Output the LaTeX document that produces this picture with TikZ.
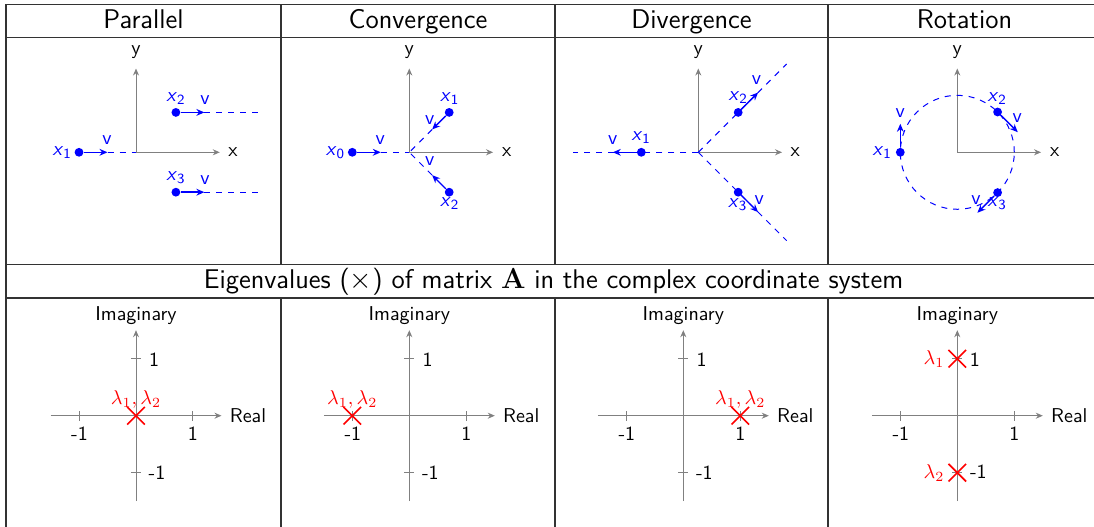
\documentclass[tikz,border=0pt]{standalone}
\usetikzlibrary{arrows.meta,shapes.misc,calc}
\begin{document}
\begin{tikzpicture}[x=0.0175439cm,y=-0.0175439cm,font=\sffamily,
  grid/.style={line width=0.75pt,black!80},
  hdr/.style={font=\sffamily\fontsize{13.5}{16}\selectfont,anchor=base,inner sep=0pt},
  axis/.style={gray,line width=0.5pt,-{Stealth[length=3.5pt,width=3pt]}},
  axisplain/.style={gray,line width=0.5pt},
  vel/.style={blue,line width=0.7pt,-{Stealth[length=4pt,width=3.4pt]}},
  traj/.style={blue,dashed,line width=0.5pt},
  pt/.style={circle,fill=blue,inner sep=0pt,minimum size=4.4pt},
  blbl/.style={blue,inner sep=0pt},
  albl/.style={inner sep=0pt},
  eig/.style={draw=red,cross out,line width=0.8pt,inner sep=0pt,minimum size=0.28cm},
  elbl/.style={red,inner sep=0pt}]
\useasboundingbox (0,0) rectangle (1094,527);
% table grid
\draw[grid] (6,527) -- (6,4.5) -- (1094,4.5);
\draw[grid] (6,37.5) -- (1094,37.5);
\draw[grid] (6,264.5) -- (1094,264.5);
\draw[grid] (6,298) -- (1094,298);
\foreach \c in {281,555,828}{
  \draw[grid] (\c,4.5) -- (\c,264.5);
  \draw[grid] (\c,298) -- (\c,527);
}
% headers
\node[hdr] (h1) at (143.5,28.3) {Parallel};
\node[hdr] (h2) at (418,28.3) {Convergence};
\node[hdr] (h3) at (691.5,28.3) {Divergence};
\node[hdr] (h4) at (964.5,28.3) {Rotation};
\node[hdr] (h5) at (553.5,288.3) {Eigenvalues ($\times$) of matrix $\mathbf{A}$ in the complex coordinate system};

% ---------- Parallel ----------
\begin{scope}[shift={(136,152.3)},x=1cm,y=1cm]
  \coordinate (po) at (0,0);
  \coordinate (px) at (1.47,0);
  \coordinate (py) at (0,1.47);
  \draw[axis] (po) -- (px);
  \draw[axis] (po) -- (py);
  \node[albl] (pxl) at (1.7,0) {x};
  \node[albl] (pyl) at (0,1.76) {y};
  \node[pt] (p1) at (-1,0) {};
  \coordinate (p1v) at (-0.5,0);
  \draw[vel] (p1) -- (p1v);
  \draw[traj] (p1v) -- (po);
  \node[blbl,anchor=east] (p1l) at (-1.12,0) {\textit{x}\textsubscript{1}};
  \node[blbl] (p1vl) at (-0.51,0.22) {v};
  \node[pt] (p2) at (0.7,0.7) {};
  \coordinate (p2v) at (1.2,0.7);
  \coordinate (p2e) at (2.2,0.7);
  \draw[vel] (p2) -- (p2v);
  \draw[traj] (p2v) -- (p2e);
  \node[blbl] (p2l) at (0.7,0.95) {\textit{x}\textsubscript{2}};
  \node[blbl] (p2vl) at (1.21,0.92) {v};
  \node[pt] (p3) at (0.7,-0.7) {};
  \coordinate (p3v) at (1.2,-0.7);
  \coordinate (p3e) at (2.2,-0.7);
  \draw[vel] (p3) -- (p3v);
  \draw[traj] (p3v) -- (p3e);
  \node[blbl] (p3l) at (0.7,-0.45) {\textit{x}\textsubscript{3}};
  \node[blbl] (p3vl) at (1.21,-0.48) {v};
\end{scope}

% ---------- Convergence ----------
\begin{scope}[shift={(409.3,152.3)},x=1cm,y=1cm]
  \coordinate (co) at (0,0);
  \coordinate (cx) at (1.47,0);
  \coordinate (cy) at (0,1.47);
  \draw[axis] (co) -- (cx);
  \draw[axis] (co) -- (cy);
  \node[albl] (cxl) at (1.71,0) {x};
  \node[albl] (cyl) at (0,1.76) {y};
  \node[pt] (c0) at (-1,0) {};
  \coordinate (c0v) at (-0.5,0);
  \draw[vel] (c0) -- (c0v);
  \draw[traj] (c0v) -- (co);
  \node[blbl,anchor=east] (c0l) at (-1.12,0) {\textit{x}\textsubscript{0}};
  \node[blbl] (c0vl) at (-0.51,0.22) {v};
  \node[pt] (c1) at (0.7,0.7) {};
  \coordinate (c1v) at (0.4,0.4);
  \draw[vel] (c1) -- (c1v);
  \draw[traj] (c1v) -- (co);
  \node[blbl] (c1l) at (0.71,0.95) {\textit{x}\textsubscript{1}};
  \node[blbl] (c1vl) at (0.36,0.57) {v};
  \node[pt] (c2) at (0.7,-0.7) {};
  \coordinate (c2v) at (0.4,-0.4);
  \draw[vel] (c2) -- (c2v);
  \draw[traj] (c2v) -- (co);
  \node[blbl] (c2l) at (0.71,-0.9) {\textit{x}\textsubscript{2}};
  \node[blbl] (c2vl) at (0.36,-0.15) {v};
\end{scope}

% ---------- Divergence ----------
\begin{scope}[shift={(698.3,152.3)},x=1cm,y=1cm]
  \coordinate (do) at (0,0);
  \coordinate (dx) at (1.47,0);
  \coordinate (dy) at (0,1.47);
  \draw[axis] (do) -- (dx);
  \draw[axis] (do) -- (dy);
  \node[albl] (dxl) at (1.7,0) {x};
  \node[albl] (dyl) at (0,1.76) {y};
  \coordinate (d1e) at (-2.2,0);
  \coordinate (d2e) at (1.55,1.55);
  \coordinate (d3e) at (1.55,-1.55);
  \draw[traj] (do) -- (d1e);
  \draw[traj] (do) -- (d2e);
  \draw[traj] (do) -- (d3e);
  \node[pt] (d1) at (-1,0) {};
  \coordinate (d1v) at (-1.5,0);
  \draw[vel] (d1) -- (d1v);
  \node[blbl] (d1l) at (-1,0.25) {\textit{x}\textsubscript{1}};
  \node[blbl] (d1vl) at (-1.5,0.22) {v};
  \node[pt] (d2) at (0.7,0.7) {};
  \coordinate (d2v) at (1.05,1.05);
  \draw[vel] (d2) -- (d2v);
  \node[blbl] (d2l) at (0.7,0.96) {\textit{x}\textsubscript{2}};
  \node[blbl] (d2vl) at (1.02,1.27) {v};
  \node[pt] (d3) at (0.7,-0.7) {};
  \coordinate (d3v) at (1.05,-1.05);
  \draw[vel] (d3) -- (d3v);
  \node[blbl] (d3l) at (0.69,-0.92) {\textit{x}\textsubscript{3}};
  \node[blbl] (d3vl) at (1.07,-0.84) {v};
\end{scope}

% ---------- Rotation ----------
\begin{scope}[shift={(957.3,152.3)},x=1cm,y=1cm]
  \coordinate (ro) at (0,0);
  \coordinate (rx) at (1.47,0);
  \coordinate (ry) at (0,1.47);
  \draw[axis] (ro) -- (rx);
  \draw[axis] (ro) -- (ry);
  \node[albl] (rxl) at (1.71,0) {x};
  \node[albl] (ryl) at (0,1.76) {y};
  \draw[traj] (ro) circle[radius=1];
  \node[pt] (r1) at (-1,0) {};
  \coordinate (r1v) at (-1,0.5);
  \draw[vel] (r1) -- (r1v);
  \node[blbl,anchor=east] (r1l) at (-1.14,0) {\textit{x}\textsubscript{1}};
  \node[blbl] (r1vl) at (-1,0.68) {v};
  \node[pt] (r2) at (45:1) {};
  \coordinate (r2v) at ($(45:1)+(0.354,-0.354)$);
  \draw[vel] (r2) -- (r2v);
  \node[blbl] (r2l) at (0.7,0.95) {\textit{x}\textsubscript{2}};
  \node[blbl] (r2vl) at (1.05,0.6) {v};
  \node[pt] (r3) at (-45:1) {};
  \coordinate (r3v) at ($(-45:1)+(-0.354,-0.354)$);
  \draw[vel] (r3) -- (r3v);
  \node[blbl] (r3l) at (0.7,-0.91) {\textit{x}\textsubscript{3}};
  \node[blbl] (r3vl) at (0.33,-0.84) {v};
\end{scope}

% ---------- Eigenvalue planes ----------
\foreach \ox/\n in {136/a,409.3/b,683.3/c,957.3/d}{
\begin{scope}[shift={(\ox,415.7)},x=1cm,y=1cm]
  \coordinate (\n L) at (-1.5,0);
  \coordinate (\n R) at (1.5,0);
  \coordinate (\n B) at (0,-1.5);
  \coordinate (\n T) at (0,1.5);
  \draw[axis] (\n L) -- (\n R);
  \draw[axis] (\n B) -- (\n T);
  \draw[axisplain] (-1,-0.09) -- (-1,0.09);
  \draw[axisplain] (1,-0.09) -- (1,0.09);
  \draw[axisplain] (-0.09,1) -- (0.09,1);
  \draw[axisplain] (-0.09,-1) -- (0.09,-1);
  \node[albl,anchor=base west] (\n real) at (1.64,-0.123) {Real};
  \node[albl,anchor=base] (\n imag) at (0,1.667) {Imaginary};
  \node[albl,anchor=base] (\n xm) at (-0.99,-0.44) {-1};
  \node[albl,anchor=base] (\n xp) at (1,-0.44) {1};
\end{scope}}
% y tick labels and eigenvalues
\begin{scope}[shift={(136,415.7)},x=1cm,y=1cm]
  \node[albl] (ayp) at (0.32,0.98) {1};
  \node[albl] (aym) at (0.37,-1.0) {-1};
  \node[eig] (ae) at (0,0) {};
  \node[elbl,anchor=base] (ael) at (0,0.19) {$\lambda_1,\lambda_2$};
\end{scope}
\begin{scope}[shift={(409.3,415.7)},x=1cm,y=1cm]
  \node[albl] (byp) at (0.32,0.98) {1};
  \node[albl] (bym) at (0.37,-1.0) {-1};
  \node[eig] (be) at (-1,0) {};
  \node[elbl,anchor=base] (bel) at (-1,0.19) {$\lambda_1,\lambda_2$};
\end{scope}
\begin{scope}[shift={(683.3,415.7)},x=1cm,y=1cm]
  \node[albl] (cyp) at (0.32,0.98) {1};
  \node[albl] (cym) at (0.37,-1.0) {-1};
  \node[eig] (ce) at (1,0) {};
  \node[elbl,anchor=base] (cel) at (1,0.19) {$\lambda_1,\lambda_2$};
\end{scope}
\begin{scope}[shift={(957.3,415.7)},x=1cm,y=1cm]
  \node[albl] (dyp) at (0.31,0.98) {1};
  \node[albl] (dym) at (0.37,-0.99) {-1};
  \node[eig] (de1) at (0,1) {};
  \node[eig] (de2) at (0,-1) {};
  \node[elbl,anchor=east] (del1) at (-0.22,1) {$\lambda_1$};
  \node[elbl,anchor=east] (del2) at (-0.22,-1) {$\lambda_2$};
\end{scope}
\end{tikzpicture}
\end{document}
